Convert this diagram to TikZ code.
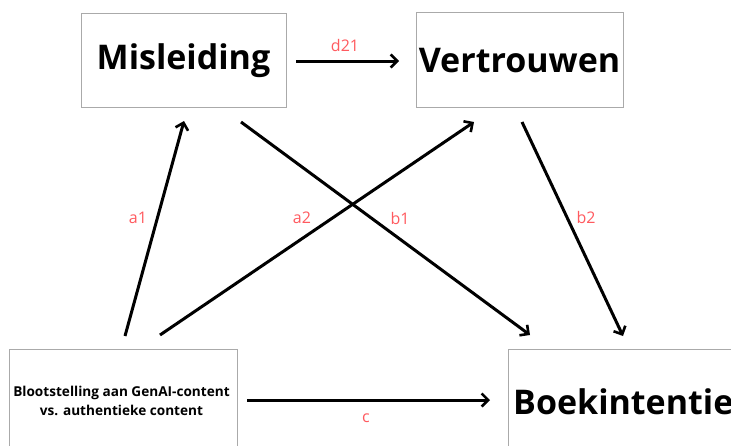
\documentclass[tikz,border=0pt]{standalone}
\usepackage{fontspec}
\setmainfont{Open Sans}
\usetikzlibrary{arrows.meta}
\definecolor{boxgray}{HTML}{AAAAAA}
\definecolor{lblred}{HTML}{FF5A5F}
\tikzset{
  varbox/.style={draw=boxgray, line width=0.9pt, fill=white, inner sep=0pt},
  bigtxt/.style={font=\fontsize{34}{40}\selectfont\bfseries},
  conn/.style={line width=3pt, -{Straight Barb[length=6.5pt,width=13pt,line width=2.6pt]}},
  lbl/.style={text=lblred, font=\fontsize{16}{18}\selectfont, inner sep=0pt}
}
\begin{document}
\begin{tikzpicture}[x=1pt,y=-1pt]
\clip (0,0) rectangle (731,445);
\useasboundingbox (0,0) rectangle (731,445);
\fill[white] (0,0) rectangle (731,445);
% boxes
\node[varbox, minimum width=205pt, minimum height=94pt] (mis) at (183.5,60) {};
\node[varbox, minimum width=207pt, minimum height=95pt] (ver) at (519.5,59.5) {};
\node[varbox, minimum width=228pt, minimum height=120pt] (src) at (123,409) {};
\node[varbox, minimum width=260pt, minimum height=120pt] (boek) at (638,409) {};
% texts
\node[bigtxt, inner sep=0pt] (misT) at (183.5,61) {Misleiding};
\node[bigtxt, inner sep=0pt] (verT) at (519.5,61) {Vertrouwen};
\node[bigtxt, inner sep=0pt, anchor=west] (boekT) at (513,402) {Boekintentie};
\node[font=\fontsize{13.6}{18.5}\selectfont\bfseries, align=center, inner sep=0pt] (srcT) at (121.5,401) {Blootstelling aan GenAI-content\\vs. authentieke content};
% connector end points
\coordinate (d21s) at (296,61);
\coordinate (d21e) at (399,61);
\coordinate (a1s) at (125,336);
\coordinate (a1e) at (184,121);
\coordinate (a2s) at (160,335);
\coordinate (a2e) at (474,122);
\coordinate (b1s) at (241,122);
\coordinate (b1e) at (530,335);
\coordinate (b2s) at (522,122);
\coordinate (b2e) at (623,336);
\coordinate (cs) at (247,400);
\coordinate (ce) at (490,400);
% connectors
\draw[conn] (d21s) -- (d21e);
\draw[conn] (a1s) -- (a1e);
\draw[conn] (a2s) -- (a2e);
\draw[conn] (b1s) -- (b1e);
\draw[conn] (b2s) -- (b2e);
\draw[conn] (cs) -- (ce);
% labels
\node[lbl] (ld21) at (345,45) {d21};
\node[lbl] (la1) at (138,218) {a1};
\node[lbl] (la2) at (302,218) {a2};
\node[lbl] (lb1) at (400,218) {b1};
\node[lbl] (lb2) at (586,217) {b2};
\node[lbl] (lc) at (366,418) {c};
\end{tikzpicture}
\end{document}
